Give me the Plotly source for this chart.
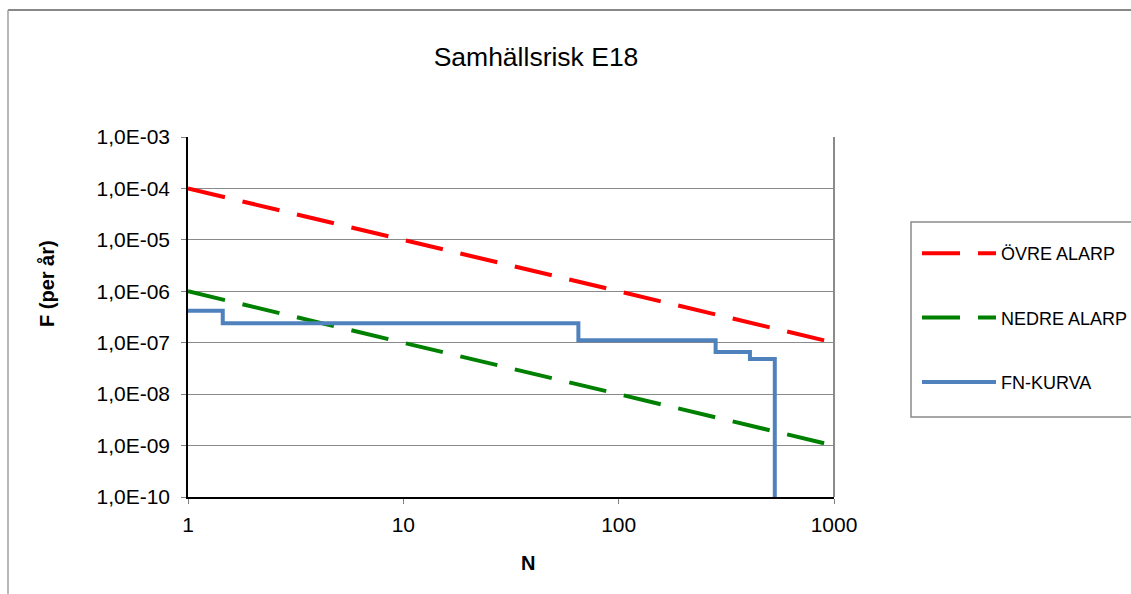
import plotly.graph_objects as go

# ---- data ----
alarp_N = [1, 1000]
ovre_F = [1e-4, 1e-7]
nedre_F = [1e-6, 1e-9]

fn_N = [1, 1.45, 65, 282, 407, 531]
fn_F = [4.2e-7, 2.4e-7, 1.12e-7, 6.6e-8, 4.85e-8, 1e-10]

y_tickvals = [1e-10, 1e-9, 1e-8, 1e-7, 1e-6, 1e-5, 1e-4, 1e-3]
y_ticktext = ["1,0E-10", "1,0E-09", "1,0E-08", "1,0E-07", "1,0E-06", "1,0E-05", "1,0E-04", "1,0E-03"]
x_tickvals = [1, 10, 100, 1000]
x_ticktext = ["1", "10", "100", "1000"]

FONT = "Liberation Sans, Arial, sans-serif"
W, H = 1131, 594
L, R, T, B = 188, 834, 137, 497
PW, PH = R - L, B - T


def px(x):
    return (x - L) / PW


def py(y):
    return (B - y) / PH


fig = go.Figure()
fig.add_trace(go.Scatter(x=alarp_N, y=ovre_F, mode="lines", name="ÖVRE ALARP",
                         legendgroup="a",
                         line=dict(color="#FF0000", width=4, dash="38px,18px")))
fig.add_trace(go.Scatter(x=alarp_N, y=nedre_F, mode="lines", name="NEDRE ALARP",
                         legendgroup="b",
                         line=dict(color="#008000", width=4, dash="38px,18px")))
fig.add_trace(go.Scatter(x=fn_N, y=fn_F, mode="lines", name="FN-KURVA",
                         legendgroup="c", line_shape="hv",
                         line=dict(color="#4F81BD", width=4)))

fig.update_layout(
    width=W, height=H,
    margin=dict(l=L, r=W - R, t=T, b=H - B, autoexpand=False),
    paper_bgcolor="white", plot_bgcolor="white",
    font=dict(family=FONT, color="black", size=20),
    title=dict(text="Samhällsrisk E18", font=dict(family=FONT, size=26.5, color="black"),
               xref="paper", x=px(536), xanchor="center",
               yref="container", y=1 - 57 / H, yanchor="middle"),
    showlegend=True,
    legend=dict(x=px(917), xanchor="left", y=py(235), yanchor="top",
                borderwidth=0, bgcolor="rgba(0,0,0,0)",
                font=dict(family=FONT, size=18, color="black"),
                itemwidth=74, tracegroupgap=38, traceorder="grouped"),
    xaxis=dict(type="log", range=[0, 3], tickvals=x_tickvals, ticktext=x_ticktext,
               showgrid=False, zeroline=False, showline=True, linecolor="black", linewidth=1.5,
               ticks="outside", ticklen=5, tickcolor="#808080", ticklabelstandoff=3,
               tickfont=dict(family=FONT, size=21)),
    yaxis=dict(type="log", range=[-10, -3], tickvals=y_tickvals, ticktext=y_ticktext,
               showgrid=True, gridcolor="#8a8a8a", gridwidth=1, zeroline=False,
               showline=True, linecolor="black", linewidth=1.5,
               ticks="outside", ticklen=5, tickcolor="#808080", ticklabelstandoff=7,
               tickfont=dict(family=FONT, size=21)),
    annotations=[
        dict(text="<b>N</b>", xref="paper", yref="paper", x=px(528), y=py(563),
             xanchor="center", yanchor="middle", showarrow=False,
             font=dict(family=FONT, size=20, color="black")),
        dict(text="<b>F (per år)</b>", xref="paper", yref="paper", x=px(47), y=py(284),
             xanchor="center", yanchor="middle", showarrow=False, textangle=-90,
             font=dict(family=FONT, size=20, color="black")),
    ],
)

# right plot border (gray), legend box and outer chart frame
fig.add_shape(type="line", xref="paper", yref="paper", x0=1, x1=1, y0=0, y1=1,
              line=dict(color="#8a8a8a", width=2), layer="below")
fig.add_shape(type="rect", xref="paper", yref="paper", x0=px(911), x1=px(1145),
              y0=py(417), y1=py(222), line=dict(color="#8a8a8a", width=1.5))
fig.add_shape(type="line", xref="paper", yref="paper", x0=px(8), x1=px(1145),
              y0=py(10), y1=py(10), line=dict(color="#606060", width=1.5))
fig.add_shape(type="line", xref="paper", yref="paper", x0=px(8), x1=px(8),
              y0=py(10), y1=py(610), line=dict(color="#a0a0a0", width=1.5))

fig.write_html("out.html")
